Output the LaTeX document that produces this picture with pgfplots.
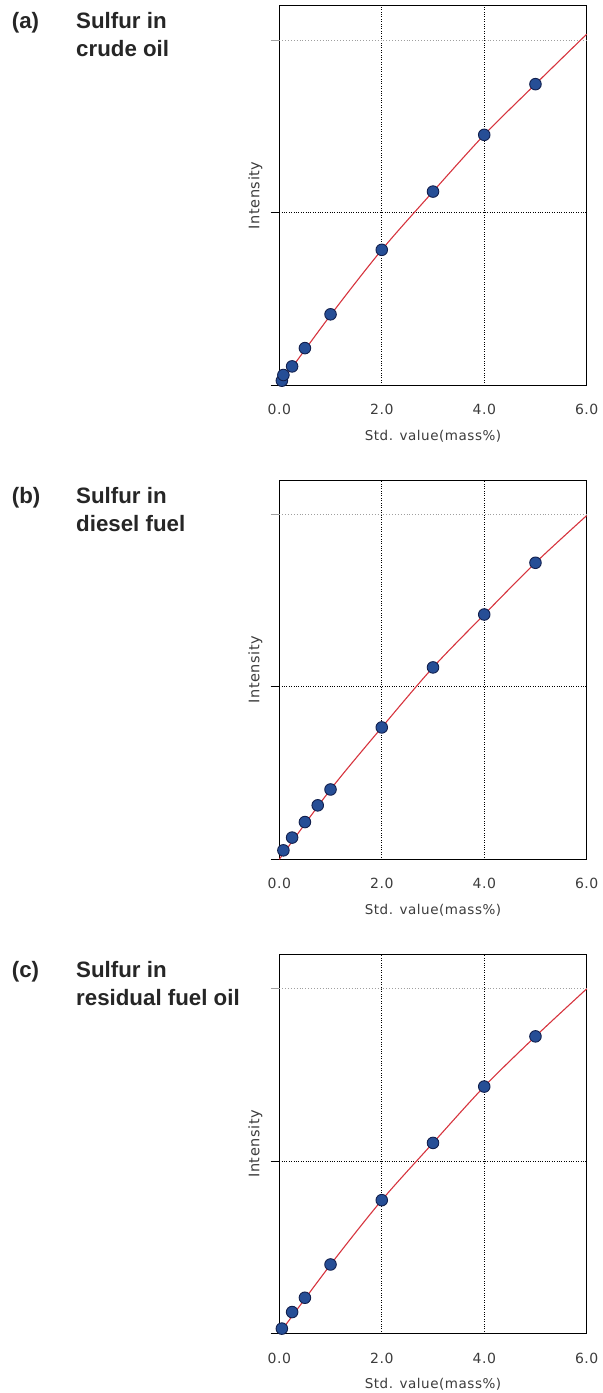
\documentclass[border=0pt]{standalone}
\usepackage{pgfplots}
\pgfplotsset{compat=1.18}
\usepackage{pgfplotstable}
\usepackage{fontspec}
\setmainfont{Liberation Sans}
\newfontfamily\axfont[LetterSpace=4]{DejaVu Sans}
\definecolor{fitred}{RGB}{214,52,62}
\definecolor{ptfill}{RGB}{38,78,150}
\definecolor{ptedge}{RGB}{18,32,78}
\definecolor{txtgray}{RGB}{60,60,60}

% standards: x = std. value (mass%), y = intensity (relative)
\pgfplotstableread{
x y
0.05 0.025
0.08 0.058
0.25 0.108
0.5 0.214
1 0.41
2 0.784
3 1.122
4 1.451
5 1.745
}\crudepts
\pgfplotstableread{
x y
0 0
1 0.405
2 0.784
3 1.122
4 1.451
5 1.745
6 2.035
}\crudefit
\pgfplotstableread{
x y
0.08 0.052
0.25 0.126
0.5 0.216
0.75 0.313
1 0.405
2 0.765
3 1.113
4 1.42
5 1.72
}\dieselpts
\pgfplotstableread{
x y
0 0
1 0.405
2 0.765
3 1.113
4 1.42
5 1.72
6 1.994
}\dieselfit
\pgfplotstableread{
x y
0.05 0.029
0.25 0.125
0.5 0.208
1 0.401
2 0.774
3 1.106
4 1.433
5 1.724
}\residpts
\pgfplotstableread{
x y
0 0
1 0.4
2 0.774
3 1.106
4 1.433
5 1.724
6 2.0
}\residfit

\pgfplotsset{
  calib/.style={
    anchor=south west,
    scale only axis,
    width=307.4bp, height=379.3bp,
    xmin=0, xmax=6, ymin=0, ymax=2.2,
    xtick={0,2,4,6}, xticklabels={0.0,2.0,4.0,6.0},
    ytick={0,1}, yticklabels={},
    extra y ticks={2}, extra y tick labels={},
    extra y tick style={grid style={gray!75, dotted, line width=0.9bp},
                        ytick style={gray!75, line width=0.9bp}},
    xtick pos=bottom, ytick pos=left,
    tick align=outside,
    major tick length=8.6bp,
    xtick style={draw=none},
    ytick style={black, line width=0.9bp},
    grid=major,
    grid style={black, dotted, line width=0.9bp},
    axis line style={black, line width=1bp},
    xticklabel style={font=\axfont\fontsize{14bp}{16bp}\selectfont, text=txtgray, yshift=-7bp},
    xlabel={Std. value(mass\%)},
    xlabel style={font=\axfont\fontsize{13.5bp}{16bp}\selectfont, text=txtgray,
                  at={(rel axis cs:0.5,0)}, anchor=base, yshift=-55bp},
    ylabel={Intensity},
    ylabel style={font=\axfont\fontsize{14.5bp}{16bp}\selectfont, text=txtgray,
                  at={(rel axis cs:-0.0547,0.5)}, anchor=south, inner sep=0pt, rotate=0},
    clip=false,
  },
  fitline/.style={fitred, line width=1.1bp, smooth, no marks},
  stdpts/.style={only marks, mark=*, mark size=5.8bp,
                 mark options={fill=ptfill, draw=ptedge, line width=0.9bp}},
}

\newcommand{\paneltitle}[4]{%
  \node[anchor=base west, inner sep=0pt, font=\bfseries\fontsize{22.3bp}{24bp}\selectfont, text=black!85]
    at (11.7bp,#1) {#2};
  \node[anchor=base west, inner sep=0pt, font=\bfseries\fontsize{22.3bp}{24bp}\selectfont, text=black!85]
    at (76bp,#1) {#3};
  \node[anchor=base west, inner sep=0pt, font=\bfseries\fontsize{22.3bp}{24bp}\selectfont, text=black!85]
    at (76bp,#1-28.3bp) {#4};
}

\begin{document}
\begin{tikzpicture}
\path[use as bounding box] (0,0) rectangle (603bp,-1393bp);

\paneltitle{-28.3bp}{(a)}{Sulfur in}{crude oil}
\begin{axis}[calib, at={(279.3bp,-385bp)}]
\addplot[fitline] table[x=x,y=y] {\crudefit};
\addplot[stdpts] table[x=x,y=y] {\crudepts};
\end{axis}

\paneltitle{-503.5bp}{(b)}{Sulfur in}{diesel fuel}
\begin{axis}[calib, at={(279.3bp,-859.3bp)}]
\addplot[fitline] table[x=x,y=y] {\dieselfit};
\addplot[stdpts] table[x=x,y=y] {\dieselpts};
\end{axis}

\paneltitle{-977.5bp}{(c)}{Sulfur in}{residual fuel oil}
\begin{axis}[calib, at={(279.3bp,-1333.6bp)}]
\addplot[fitline] table[x=x,y=y] {\residfit};
\addplot[stdpts] table[x=x,y=y] {\residpts};
\end{axis}
\end{tikzpicture}
\end{document}
